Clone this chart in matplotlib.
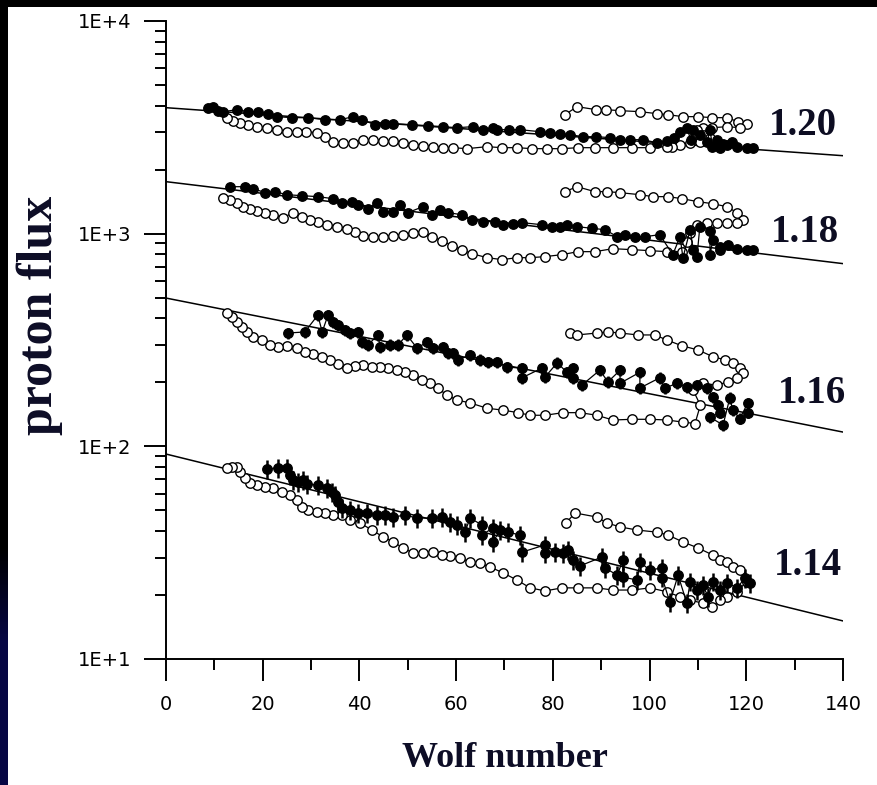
import numpy as np
import matplotlib
matplotlib.use('Agg')
import matplotlib.pyplot as plt
from matplotlib.patches import Rectangle
from matplotlib.ticker import LogLocator, NullFormatter, MultipleLocator

# --- data: Wolf number (W) vs proton flux (F) ---
# rigidity 1.20
w_fill_120 = [8.7, 9.7, 10.8, 11.8, 14.7, 17.0, 19.0, 21.0, 23.0, 26.0, 29.4, 32.9, 36.0, 38.7, 40.5,
              43.2, 45.3, 47.0, 50.9, 54.2, 57.3, 60.2, 63.5, 65.6, 67.6, 68.4, 71.0, 73.2, 77.3, 79.4,
              81.5, 83.5, 86.2, 89.0, 91.8, 93.9, 96.0, 98.6, 101.5, 103.6, 105.0, 106.3, 107.7, 108.5,
              109.0, 110.4, 111.9, 112.5, 113.0, 114.0, 114.6, 115.2, 116.0, 117.0, 118.0, 120.1, 121.4]
f_fill_120 = [3910, 3955, 3788, 3747, 3828, 3747, 3747, 3668, 3550, 3511, 3511, 3435, 3435, 3550, 3435,
              3254, 3290, 3290, 3254, 3219, 3185, 3150, 3185, 3083, 3150, 3083, 3083, 3083, 3017, 2985,
              2953, 2921, 2858, 2858, 2828, 2767, 2767, 2767, 2678, 2737, 2828, 3017, 3150, 2767,
              3083, 2921, 2707, 3083, 2565, 2767, 2537, 2650, 2621, 2700, 2565, 2537, 2537]
w_open_120 = [82.5, 85.0, 89.0, 91.0, 93.9, 98.0, 101.5, 103.8, 106.9, 110.0, 113.0, 116.0, 118.3, 120.1,
              118.7, 116.0, 113.0, 111.0, 109.8, 111.0, 112.5, 110.4, 108.4, 106.3, 104.6, 103.6, 100.1,
              96.4, 92.4, 88.7, 85.2, 81.9, 78.8, 75.7, 72.6, 69.5, 66.4, 62.2, 59.3, 57.3, 55.2, 53.1,
              51.0, 49.0, 47.0, 44.9, 42.8, 40.7, 38.7, 36.6, 34.6, 32.9, 31.2, 29.0, 27.0, 25.0, 23.0,
              20.9, 18.8, 17.0, 15.3, 13.9, 12.6]
f_open_120 = [3627, 3955, 3828, 3828, 3788, 3747, 3668, 3627, 3550, 3550, 3511, 3511, 3362, 3290,
              3150, 3185, 3150, 3150, 3083, 2921, 2828, 2707, 2678, 2621, 2565, 2565, 2537,
              2537, 2537, 2537, 2537, 2510, 2510, 2510, 2537, 2537, 2565, 2510, 2537, 2537, 2565, 2593,
              2621, 2678, 2737, 2737, 2767, 2767, 2678, 2678, 2707, 2858, 2985, 3017, 3017, 3017, 3083,
              3150, 3185, 3254, 3327, 3398, 3511]

# rigidity 1.18
w_fill_118 = [13.2, 16.3, 18.0, 20.5, 22.5, 25.0, 28.1, 31.4, 34.5, 36.4, 38.5, 39.7, 41.8, 43.6, 44.9,
              47.0, 48.4, 50.0, 53.1, 55.0, 56.7, 58.3, 61.2, 63.3, 65.5, 68.0, 69.7, 71.8, 73.6, 77.7,
              79.8, 81.5, 82.9, 85.0, 88.0, 90.8, 93.3, 94.9, 97.0, 99.0, 102.1, 104.8, 106.3, 106.9,
              108.4, 109.0, 109.8, 110.4, 112.5, 112.5, 113.1, 114.6, 114.6, 116.2, 118.1, 120.1, 121.4]
f_fill_118 = [1663, 1663, 1629, 1559, 1576, 1525, 1509, 1493, 1461, 1399, 1414, 1369, 1311, 1399, 1269,
              1269, 1369, 1255, 1339, 1228, 1297, 1255, 1228, 1164, 1139, 1139, 1102, 1114, 1127, 1102,
              1079, 1079, 1102, 1079, 1060, 1044, 968, 989, 968, 968, 989, 797, 968, 771,
              1044, 841, 780, 1079, 1033, 797, 937, 869, 841, 888, 850, 841, 841]
w_open_118 = [82.5, 85.0, 88.7, 91.2, 93.9, 98.0, 100.7, 103.8, 106.7, 110.0, 113.1, 116.0, 118.1, 119.3,
              118.1, 116.0, 113.9, 111.9, 109.8, 108.4, 107.7, 106.7, 103.6, 100.1, 96.4, 92.4, 88.7,
              85.2, 81.9, 78.4, 75.3, 72.6, 69.5, 66.4, 63.3, 61.2, 59.1, 57.1, 55.0, 53.1, 51.1, 49.0,
              47.0, 44.9, 42.8, 40.7, 39.1, 37.4, 35.4, 33.3, 31.4, 29.8, 28.1, 26.3, 24.2, 22.1, 20.5,
              18.8, 17.4, 15.9, 14.7, 13.2, 11.8]
f_open_118 = [1576, 1663, 1576, 1576, 1559, 1525, 1493, 1493, 1461, 1414, 1383, 1339, 1255, 1164,
              1127, 1127, 1127, 1127, 1102, 1011, 917, 823, 823, 832, 841, 850, 823,
              823, 797, 780, 771, 771, 755, 771, 805, 841, 879, 927, 968, 1022, 1011, 989,
              979, 968, 968, 979, 1022, 1056, 1079, 1102, 1139, 1164, 1202, 1255, 1189, 1228, 1255,
              1283, 1311, 1339, 1399, 1445, 1476]

# rigidity 1.16
w_fill_116 = [25.2, 28.7, 31.4, 32.3, 33.5, 34.5, 35.6, 37.0, 38.0, 39.7, 40.5, 41.8, 43.8, 44.3, 46.3,
              48.0, 49.8, 51.9, 54.0, 55.2, 57.3, 58.3, 59.3, 60.4, 62.9, 64.9, 66.6, 68.4, 70.5, 73.6,
              73.6, 77.7, 78.4, 80.9, 82.9, 84.2, 84.2, 86.0, 89.7, 91.4, 93.9, 93.9, 98.0, 98.0, 102.1,
              103.2, 105.7, 107.7, 109.8, 111.9, 113.1, 114.1, 114.6, 112.5, 115.2, 116.6, 117.2, 118.7,
              120.3, 120.3]
f_fill_116 = [341, 345, 414, 345, 414, 384, 372, 352, 341, 345, 309, 300, 334, 293, 300,
              300, 334, 290, 309, 290, 293, 275, 275, 255, 269, 255, 249, 249, 236, 233,
              210, 233, 212, 247, 223, 233, 210, 194, 228, 201, 228, 198, 223, 188, 210,
              188, 198, 190, 194, 188, 170, 156, 144, 137, 126, 169, 148, 135,
              160, 144]
w_open_116 = [83.5, 85.0, 89.1, 91.4, 93.9, 97.6, 101.1, 103.6, 106.7, 110.0, 113.1, 115.6, 117.2, 118.7,
              119.3, 118.1, 116.2, 113.9, 111.0, 109.0, 110.5, 109.4, 106.9, 103.6, 100.1, 96.4, 92.4,
              89.1, 85.6, 82.1, 78.4, 75.3, 72.8, 69.7, 66.4, 62.9, 60.2, 58.1, 56.2, 54.6, 52.9, 51.1,
              49.4, 47.8, 45.9, 44.3, 42.6, 40.7, 39.1, 37.4, 35.6, 33.9, 32.3, 30.4, 28.7, 27.1, 25.0,
              23.2, 21.5, 19.9, 18.0, 16.7, 15.7, 14.7, 13.6, 12.6]
f_open_116 = [341, 334, 341, 345, 341, 334, 334, 316, 297, 284, 264, 255, 247, 233,
              221, 210, 201, 194, 198, 184, 156, 128, 130, 133, 134, 134, 133,
              140, 144, 144, 140, 140, 144, 148, 151, 160, 165, 174, 188, 198, 205, 216,
              223, 228, 233, 236, 236, 241, 238, 233, 245, 255, 263, 272, 278, 290, 296,
              293, 300, 316, 327, 345, 363, 384, 405, 423]

# rigidity 1.14
w_fill_114 = [20.9, 23.2, 25.0, 25.6, 26.3, 27.3, 28.3, 29.2, 31.4, 33.3, 34.3, 34.9, 35.6, 36.4, 38.0,
              39.7, 41.6, 43.6, 45.3, 47.0, 49.4, 51.9, 55.0, 57.1, 58.7, 60.2, 61.8, 62.9, 65.3, 65.3,
              67.6, 67.6, 69.1, 70.7, 73.2, 73.6, 78.4, 78.4, 80.4, 82.1, 83.1, 84.2, 85.6, 90.2, 90.8,
              93.3, 94.5, 94.5, 97.4, 98.0, 100.0, 102.6, 102.6, 104.2, 105.9, 107.7, 108.4, 109.8,
              111.0, 112.1, 113.1, 114.6, 116.0, 118.1, 119.7, 120.8]
f_fill_114 = [78.3, 79.2, 79.2, 73.3, 69.4, 68.0, 69.4, 66.5, 65.8, 63.7, 61.0, 59.0, 54.7, 51.3, 50.2,
              48.6, 48.6, 47.5, 47.5, 46.5, 47.5, 46.0, 46.0, 46.5, 44.1, 42.7, 39.5, 46.0, 42.7, 38.3,
              41.3, 35.5, 40.4, 39.5, 38.3, 31.8, 34.4, 31.5, 31.8, 31.5, 32.5, 29.2, 27.4, 30.2, 26.8,
              24.8, 29.2, 24.3, 23.5, 28.6, 26.2, 26.8, 24.1, 18.5, 24.8, 18.3, 23.1, 21.1,
              22.3, 19.6, 23.1, 21.1, 22.8, 21.6, 24.0, 22.8]
w_open_114 = [82.7, 84.6, 89.1, 91.2, 93.9, 97.4, 101.5, 103.8, 106.9, 110.0, 113.1, 114.6, 116.0, 117.2,
              118.7, 120.1, 118.0, 116.0, 114.6, 112.9, 111.0, 108.4, 106.3, 103.6, 100.1, 96.4, 92.4,
              89.1, 85.2, 81.9, 78.4, 75.3, 72.6, 69.7, 67.0, 64.9, 62.9, 60.8, 58.7, 57.1, 55.2, 53.1,
              51.1, 49.0, 47.0, 44.9, 42.6, 40.1, 38.0, 36.4, 34.5, 32.9, 31.2, 29.4, 28.1, 27.1, 25.6,
              24.0, 22.1, 20.5, 18.8, 17.4, 16.3, 15.3, 14.7, 13.6, 12.6]
f_open_114 = [43.6, 48.6, 46.5, 43.6, 41.8, 40.4, 39.5, 38.3, 35.5, 33.3, 30.8, 29.2, 28.6, 27.1,
              26.2, 23.1, 20.7, 19.6, 18.9, 17.6, 18.3, 18.9, 19.6, 20.7, 21.6, 21.1, 21.1,
              21.6, 21.6, 21.6, 20.9, 21.6, 23.5, 25.4, 27.1, 28.2, 28.6, 29.8, 30.5, 30.8, 31.8, 31.5,
              31.5, 33.3, 35.5, 37.5, 40.4, 43.6, 45.0, 47.5, 47.5, 48.6, 49.2, 50.2, 51.8, 55.9, 59.0,
              61.0, 63.7, 64.4, 65.8, 67.2, 70.9, 75.7, 80.0, 80.0, 79.2]

# regression lines (flux at W=0 and W=140)
fit_w = [0, 140]
fit_120 = [3912, 2326]
fit_118 = [1756, 723]
fit_116 = [498, 116.7]
fit_114 = [92.0, 15.1]

rigidity_labels = ['1.20', '1.18', '1.16', '1.14']
rel_err = [0.015, 0.03, 0.06, 0.10]

x_ticks = [0, 20, 40, 60, 80, 100, 120, 140]
y_ticks = [10, 100, 1000, 10000]
y_tick_labels = ['1E+1', '1E+2', '1E+3', '1E+4']

groups = [
    (w_fill_120, f_fill_120, w_open_120, f_open_120, fit_120),
    (w_fill_118, f_fill_118, w_open_118, f_open_118, fit_118),
    (w_fill_116, f_fill_116, w_open_116, f_open_116, fit_116),
    (w_fill_114, f_fill_114, w_open_114, f_open_114, fit_114),
]

# --- figure ---
fig = plt.figure(figsize=(8.78, 7.85), dpi=100, facecolor='white')

# dark slide border: black strip on top, black-to-navy strip on the left
fig.patches.append(Rectangle((0, 1 - 7 / 785), 1, 7 / 785, transform=fig.transFigure,
                             facecolor='black', edgecolor='none', zorder=0))
bax = fig.add_axes([0, 0, 8 / 878, 1])
t = np.linspace(0, 1, 200)[:, None]
k = np.clip((t - 0.70) / 0.12, 0, 1)
navy = np.array([0.03, 0.03, 0.27])
grad = (k[..., None] * navy[None, None, :]) * np.ones((1, 2, 1))
bax.imshow(grad, aspect='auto', interpolation='bilinear')
bax.axis('off')

ax = fig.add_axes([166 / 878, 126 / 785, 677 / 878, 638 / 785])
ax.set_yscale('log')
ax.set_xlim(0, 140)
ax.set_ylim(10, 10000)

for (wf, ff, wo, fo, fit), err in zip(groups, rel_err):
    ax.plot(fit_w, fit, color='black', lw=1.1, zorder=1)
    ax.plot(wo, fo, color='black', lw=0.9, marker='o', ms=6.8, mfc='white', mec='black',
            mew=1.0, zorder=2)
    ff = np.array(ff)
    ax.errorbar(wf, ff, yerr=ff * err, fmt='-o', color='black', lw=0.9, ms=6.8,
                elinewidth=1.8, capsize=0, zorder=3)

# rigidity labels
label_pos = [(0.941, 0.8213), (0.944, 0.6536), (0.954, 0.4013), (0.948, 0.1317)]
for txt, (lx, ly) in zip(rigidity_labels, label_pos):
    ax.text(lx, ly, txt, transform=ax.transAxes, ha='center', va='baseline',
            fontsize=28, fontweight='bold', family='Liberation Serif', color='#0d0d22')

# axes styling
for side in ['top', 'right']:
    ax.spines[side].set_visible(False)
for side in ['left', 'bottom']:
    ax.spines[side].set_linewidth(1.4)

ax.set_xticks(x_ticks)
ax.xaxis.set_minor_locator(MultipleLocator(10))
ax.set_yticks(y_ticks, labels=y_tick_labels)
ax.yaxis.set_minor_locator(LogLocator(base=10, subs=np.arange(2, 10)))
ax.yaxis.set_minor_formatter(NullFormatter())
ax.tick_params(which='major', direction='out', length=16, width=1.4, labelsize=14, pad=9)
ax.tick_params(which='minor', direction='out', length=8, width=1.4)
ax.tick_params(axis='x', which='major', pad=10)
for lab in ax.get_xticklabels() + ax.get_yticklabels():
    lab.set_family('DejaVu Sans')

fig.text(505 / 878, 1 - 767 / 785, 'Wolf number', ha='center', va='baseline', fontsize=26,
         fontweight='bold', family='Liberation Serif', color='#0d0d26')
fig.text(40 / 878, 1 - 315 / 785, 'proton flux', rotation=90, ha='center', va='center',
         fontsize=36, fontweight='bold', family='Liberation Serif', color='#0d0d26')

fig.savefig('out.png', dpi=100, facecolor='white')
